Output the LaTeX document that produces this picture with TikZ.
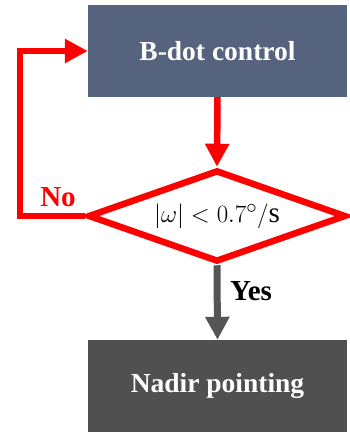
\documentclass[tikz,border=0pt]{standalone}
\usepackage{fontspec}
\setmainfont{Liberation Serif}
\usetikzlibrary{arrows.meta,shapes.geometric}
\definecolor{boxblue}{RGB}{86,99,126}
\definecolor{boxgray}{RGB}{80,80,80}
\definecolor{arrgray}{RGB}{85,85,85}
\begin{document}
\begin{tikzpicture}[x=1pt,y=-1pt,
  procbox/.style={fill=#1, text=white, font=\bfseries\fontsize{27.5}{30}\selectfont,
    minimum width=259pt, minimum height=92pt, inner sep=0pt},
  decision/.style={diamond, draw=red, line width=6.5pt, minimum width=258pt,
    minimum height=92pt, inner sep=0pt, aspect=2.8, font=\fontsize{29}{32}\selectfont},
  redarrow/.style={draw=red, line width=6.5pt, -{Triangle[length=23pt,width=23pt]}},
  grayarrow/.style={draw=arrgray, line width=7pt, -{Triangle[length=23pt,width=23pt]}},
  lab/.style={font=\bfseries\fontsize{29}{32}\selectfont, inner sep=0pt}]
\useasboundingbox[fill=white] (0,0) rectangle (349,432);
\node[procbox=boxblue] (bdot) at (217.5,51) {B-dot control};
\node[decision] (dec) at (217,216) {$|\omega|<0.7^\circ/\mathrm{s}$};
\node[procbox=boxgray] (nadir) at (217.5,386) {Nadir pointing};
\coordinate (nocorner) at (20,216);
\draw[redarrow] (bdot.south) -- (dec.north);
\draw[redarrow] (dec.west) -- (dec.west -| nocorner) |- (bdot.west);
\draw[grayarrow] (dec.south) -- (nadir.north);
\node[lab, text=red] (nolab) at (58,197) {No};
\node[lab, text=black] (yeslab) at (251,291) {Yes};
\end{tikzpicture}
\end{document}
